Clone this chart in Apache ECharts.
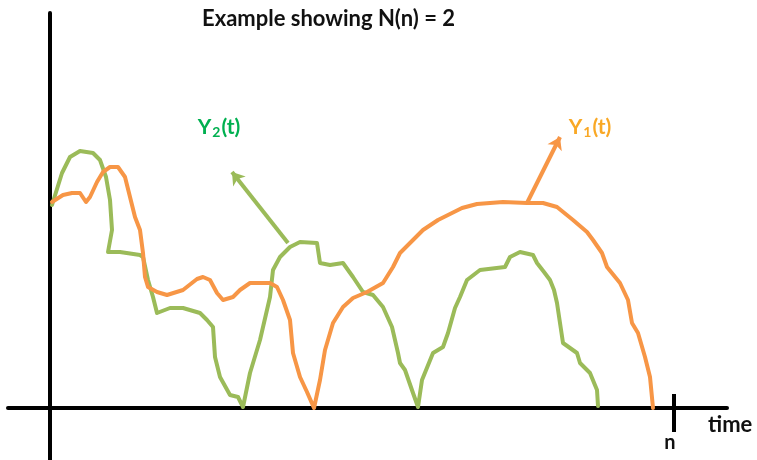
<!DOCTYPE html>
<html>
<head>
<meta charset="utf-8">
<script src="https://cdn.jsdelivr.net/npm/echarts@6/dist/echarts.min.js"></script>
<style>html,body{margin:0;padding:0;background:#fff}#c{width:757px;height:460px}</style>
</head>
<body>
<div id="c"></div>
<script>
// Y1(t) (orange) sample times and values
const y1Time  = [2,13,22,30,36,40,47,53,60,68,75,80,85,90,93,95,98,107,117,133,147,153,160,167,173,183,190,200,210,220,227,233,240,243,250,257,264,270,275,283,293,303,317,333,343,350,363,373,388,412,427,453,477,493,507,523,537,543,552,557,570,578,582,588,595,600,603];
const y1Value = [206,213,215,215,206,211,226,236,241,241,231,211,191,178,155,131,121,116,113,118,129,131,128,115,108,111,118,125,125,125,121,108,88,55,31,16,0,28,58,85,101,110,116,125,141,155,168,178,188,200,204,206,205,205,201,188,176,168,155,141,125,108,85,75,51,31,0];
// Y2(t) (green) sample times and values
const y2Time  = [2,12,20,30,43,50,56,60,62,58,70,90,93,98,103,107,120,133,150,157,163,165,170,180,188,193,200,210,220,223,230,240,250,267,270,280,293,303,313,323,333,342,348,350,355,363,368,372,383,393,398,405,410,417,430,455,460,470,483,487,494,500,504,507,513,527,530,540,547,548];
const y2Value = [203,235,251,257,255,248,231,208,178,156,156,153,151,128,111,95,100,100,95,88,81,51,31,13,11,1,35,68,111,138,151,161,166,165,145,143,145,131,116,113,101,81,55,45,38,15,1,28,55,61,75,100,111,128,138,141,151,156,153,145,136,128,118,105,65,55,45,35,18,2];
// time marker and annotation texts
const markerTime = 624;
const markerLabel = 'n';
const axisName = 'time';
const titleText = 'Example showing N(n) = 2';
const y1Arrow = [[477, 205], [510, 271]];
const y2Arrow = [[238, 165], [182, 236]];
const y1LabelPos = [540, 281];
const y2LabelPos = [169, 281];

const zip = (a, b) => a.map((v, i) => [v, b[i]]);
const ORANGE = '#F79646', GREEN = '#9BBB59';

const chart = echarts.init(document.getElementById('c'), null, {renderer: 'canvas'});
const sub = (color) => ({
  m: {color: color, fontFamily: 'Lato', fontWeight: 'bold', fontSize: 21},
  s: {color: color, fontFamily: 'Lato', fontWeight: 'bold', fontSize: 14, padding: [10, 1, 0, 1]}
});
chart.setOption({
  animation: false,
  backgroundColor: '#fff',
  title: {
    text: titleText, left: 197, top: 3,
    textStyle: {fontFamily: 'Lato', fontWeight: 'bold', fontSize: 22, color: '#111'}
  },
  grid: {left: 8, right: 30, top: 13, bottom: 0, containLabel: false, outerBoundsMode: 'none'},
  xAxis: {
    type: 'value', min: -42, max: 677,
    name: axisName, nameLocation: 'end', nameGap: -19,
    nameTextStyle: {fontFamily: 'Lato', fontWeight: 'bold', fontSize: 22, color: '#111', verticalAlign: 'top', padding: [6, 0, 0, 0]},
    axisLine: {onZero: true, lineStyle: {color: '#000', width: 4}},
    axisTick: {show: false},
    splitLine: {show: false},
    axisLabel: {show: false}
  },
  yAxis: {
    type: 'value', min: -52, max: 395,
    axisLine: {onZero: true, lineStyle: {color: '#000', width: 4}},
    axisTick: {show: false}, axisLabel: {show: false}, splitLine: {show: false}
  },
  series: [
    {
      name: 'Y2(t)', type: 'line', data: zip(y2Time, y2Value), showSymbol: false, z: 3,
      lineStyle: {color: GREEN, width: 4, join: 'round', cap: 'round'},
      markLine: {
        silent: true, symbol: ['none', 'arrow'], symbolSize: 12,
        lineStyle: {color: GREEN, width: 4, type: 'solid'}, label: {show: false},
        data: [[{coord: y2Arrow[0]}, {coord: y2Arrow[1]}]]
      },
      markPoint: {
        symbol: 'circle', symbolSize: 0, silent: true,
        label: {show: true, position: 'inside', formatter: '{m|Y}{s|2}{m|(t)}', rich: sub('#00B050')},
        data: [{coord: y2LabelPos}]
      }
    },
    {
      name: 'Y1(t)', type: 'line', data: zip(y1Time, y1Value), showSymbol: false, z: 4,
      lineStyle: {color: ORANGE, width: 4, join: 'round', cap: 'round'},
      markLine: {
        silent: true, symbol: ['none', 'arrow'], symbolSize: 12,
        lineStyle: {color: ORANGE, width: 4, type: 'solid'}, label: {show: false},
        data: [
          [{coord: y1Arrow[0]}, {coord: y1Arrow[1]}]
        ]
      },
      markPoint: {
        symbol: 'circle', symbolSize: 0, silent: true,
        label: {show: true, position: 'inside', formatter: '{m|Y}{s|1}{m|(t)}', rich: sub('#F9A825')},
        data: [{coord: y1LabelPos}]
      }
    },
    {
      name: 'marker', type: 'line', data: [], silent: true,
      markLine: {
        symbol: ['none', 'none'], silent: true,
        label: {show: true, position: 'end', distance: 1, offset: [-4, 0], formatter: markerLabel,
                fontFamily: 'Lato', fontWeight: 'bold', fontSize: 20, color: '#111'},
        lineStyle: {color: '#000', width: 4, type: 'solid'},
        data: [[{coord: [markerTime, 14]}, {coord: [markerTime, -24]}]]
      }
    }
  ]
});
</script>
</body>
</html>
